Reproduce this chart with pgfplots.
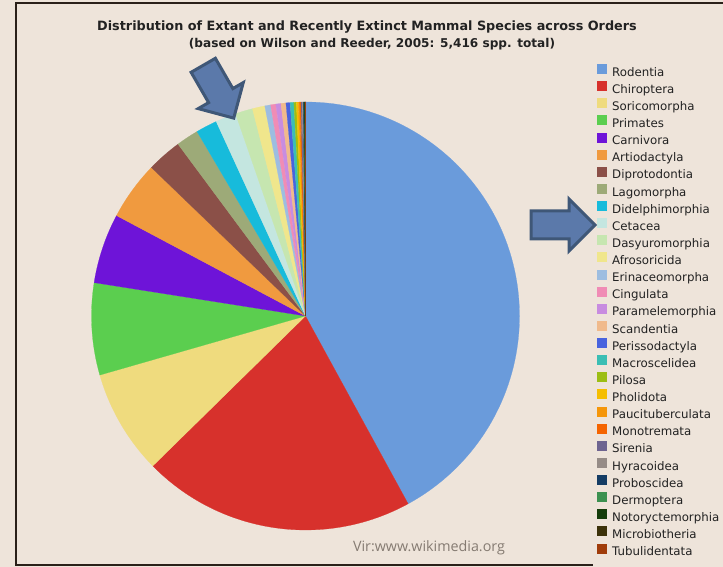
\documentclass[border=0pt]{standalone}
\usepackage{pgfplots}
\usepackage{pgfplotstable}
\pgfplotsset{compat=1.18}
\usetikzlibrary{shapes.arrows}
\usepackage{fontspec}
\setmainfont{DejaVu Sans}
\newfontfamily\credfont{Open Sans}

\definecolor{bg}{HTML}{EEE4DA}
\definecolor{framec}{HTML}{2A2019}
\definecolor{credgray}{HTML}{857B72}
\definecolor{legtext}{HTML}{222222}
\definecolor{arrfill}{HTML}{5B79AA}
\definecolor{arrdraw}{HTML}{3F5777}
\definecolor{cA}{HTML}{6A9BDB}
\definecolor{cB}{HTML}{D7312C}
\definecolor{cC}{HTML}{EFDB7E}
\definecolor{cD}{HTML}{5BCE4F}
\definecolor{cE}{HTML}{6E14D8}
\definecolor{cF}{HTML}{F09A3F}
\definecolor{cG}{HTML}{8B5048}
\definecolor{cH}{HTML}{9DAA78}
\definecolor{cI}{HTML}{17BBDB}
\definecolor{cJ}{HTML}{C4E6E0}
\definecolor{cK}{HTML}{C6E6B0}
\definecolor{cL}{HTML}{F0E68C}
\definecolor{cM}{HTML}{9DBDE0}
\definecolor{cN}{HTML}{F08CB5}
\definecolor{cO}{HTML}{C88CE0}
\definecolor{cP}{HTML}{F0BA8C}
\definecolor{cQ}{HTML}{4863DE}
\definecolor{cR}{HTML}{3BBEB4}
\definecolor{cS}{HTML}{9CBE14}
\definecolor{cT}{HTML}{F5BE00}
\definecolor{cU}{HTML}{F5960A}
\definecolor{cV}{HTML}{F56400}
\definecolor{cW}{HTML}{6E6490}
\definecolor{cX}{HTML}{968C87}
\definecolor{cY}{HTML}{143C64}
\definecolor{cZ}{HTML}{3C9150}
\definecolor{cAA}{HTML}{143C0A}
\definecolor{cAB}{HTML}{3C320A}
\definecolor{cAC}{HTML}{A03C0A}

\pgfplotstableread{
name value col
Rodentia 2277 cA
Chiroptera 1116 cB
Soricomorpha 428 cC
Primates 376 cD
Carnivora 286 cE
Artiodactyla 240 cF
Diprotodontia 143 cG
Lagomorpha 92 cH
Didelphimorphia 87 cI
Cetacea 84 cJ
Dasyuromorphia 71 cK
Afrosoricida 51 cL
Erinaceomorpha 24 cM
Cingulata 21 cN
Paramelemorphia 21 cO
Scandentia 20 cP
Perissodactyla 17 cQ
Macroscelidea 15 cR
Pilosa 10 cS
Pholidota 8 cT
Paucituberculata 6 cU
Monotremata 5 cV
Sirenia 5 cW
Hyracoidea 4 cX
Proboscidea 3 cY
Dermoptera 2 cZ
Notoryctemorphia 2 cAA
Microbiotheria 1 cAB
Tubulidentata 1 cAC
}\mammals

\begin{document}
\begin{tikzpicture}[x=1pt,y=1pt]
\useasboundingbox (0,0) rectangle (723,567);
\fill[bg] (0,0) rectangle (723,567);
\draw[line width=1.5pt, color=framec] (723,564) -- (16,564) -- (16,2) -- (593,2);

\begin{axis}[
  at={(91.5pt,37pt)}, anchor=south west,
  scale only axis, width=428pt, height=428pt,
  xmin=-1, xmax=1, ymin=-1, ymax=1,
  hide axis, clip=false,
  legend cell align=left,
  legend style={at={(rel axis cs:1.181,1.089)}, anchor=north west,
    draw=none, fill=none, inner sep=0pt, row sep=0pt, column sep=5pt,
    font=\fontsize{11.8}{14}\selectfont, text=legtext,
    nodes={inner sep=0pt, text height=11.25pt, text depth=5pt}},
  legend image code/.code={\fill[#1] (0pt,-1pt) rectangle (10pt,9pt);},
]
\pgfmathsetmacro{\cum}{0}
\pgfplotsforeachungrouped \i in {0,...,28}{%
  \pgfplotstablegetelem{\i}{value}\of\mammals \let\val\pgfplotsretval
  \pgfplotstablegetelem{\i}{col}\of\mammals \let\colr\pgfplotsretval
  \pgfplotstablegetelem{\i}{name}\of\mammals \let\nm\pgfplotsretval
  \pgfmathsetmacro{\sa}{90-(\cum/5416)*360}%
  \pgfmathsetmacro{\ea}{90-((\cum+\val)/5416)*360}%
  \edef\temp{\noexpand\fill[\colr, draw=\colr, line width=0.2pt] (axis cs:0,0) -- (axis cs:{cos(\sa)},{sin(\sa)}) arc[start angle=\sa, end angle=\ea, radius=214pt] -- cycle;
    \noexpand\addlegendimage{fill=\colr, draw=none}
    \noexpand\addlegendentry{\nm}}%
  \temp
  \pgfmathsetmacro{\cum}{\cum+\val}%
}
\end{axis}

\node[font=\fontsize{12.8}{15}\selectfont\bfseries, text=legtext] at (367,540) {Distribution of Extant and Recently Extinct Mammal Species across Orders};
\node[font=\fontsize{12.1}{15}\selectfont\bfseries, text=legtext] at (372,523) {(based on Wilson and Reeder, 2005: 5,416 spp. total)};
\node[font=\credfont\fontsize{14.3}{16}\selectfont, text=credgray] at (429,19) {Vir:www.wikimedia.org};

\node[single arrow, draw=arrdraw, fill=arrfill, line width=3pt,
  minimum height=61pt, inner xsep=0pt, inner ysep=12.5pt, single arrow head extend=12pt,
  rotate=-60, anchor=tail] at (202.5,503) {};
\node[single arrow, draw=arrdraw, fill=arrfill, line width=3pt,
  minimum height=64pt, inner xsep=0pt, inner ysep=12.5pt, single arrow head extend=12pt,
  anchor=tail] at (529.5,342) {};
\end{tikzpicture}
\end{document}
